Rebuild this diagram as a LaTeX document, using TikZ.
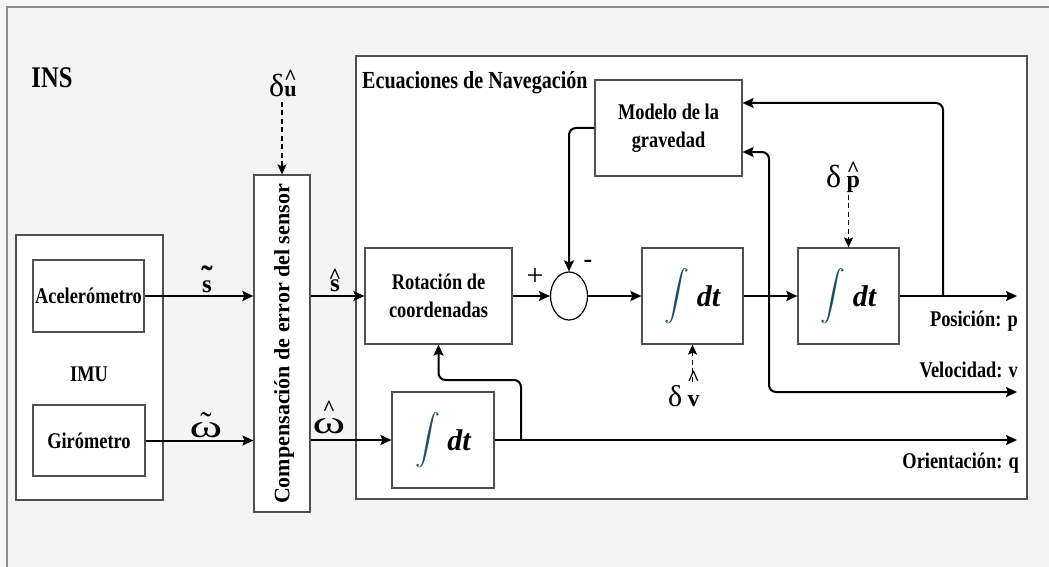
\documentclass[tikz,border=0pt]{standalone}
\usepackage{amsmath}
\usepackage{fontspec}
\setmainfont{Liberation Serif}
\newfontfamily\narrowrm{Liberation Serif}[FakeStretch=0.82]
\usetikzlibrary{arrows.meta}
\usetikzlibrary{shapes.geometric}
\definecolor{bgcol}{HTML}{F4F4F4}
\definecolor{edgecol}{HTML}{505050}
\definecolor{framecol}{HTML}{8A8A8A}
\definecolor{intcol}{HTML}{1D4F66}
\newcommand{\acc}[3]{\ooalign{\hfil#2\hfil\cr\hfil\raisebox{#3}{#1}\hfil\cr}}
\newcommand{\hatmk}{{\fontsize{22}{22}\selectfont\bfseries\textasciicircum}}
\newcommand{\tilmk}{{\fontsize{34}{34}\selectfont ˜}}
\newcommand{\omg}{\scalebox{1.55}[1]{ω}}
\newcommand{\intdt}{{\fontsize{35}{35}\selectfont\color{intcol}$\displaystyle\int$}\hspace{7pt}\raisebox{-4pt}{\fontsize{30}{30}\selectfont\bfseries\itshape dt}}
\newcommand{\blk}{\fontsize{22.4}{28}\selectfont\narrowrm\bfseries}

\begin{document}
\begin{tikzpicture}[x=1pt,y=-1pt,
    >={Stealth[length=11pt,width=10pt,inset=2pt]},
    box/.style={draw=edgecol,line width=1.2pt,fill=white,inner sep=0pt},
    txt/.style={font=\blk,align=center,inner sep=0pt},
    conn/.style={line width=2pt,->},
    dasharr/.style={line width=1.5pt,dash pattern=on 5pt off 3.5pt,
        -{Stealth[length=10pt,width=9pt,inset=2pt]}},
    acclbl/.style={anchor=base,inner sep=1pt}]
    \useasboundingbox (0,0) rectangle (1049,567);
    % background and frame
    \fill[bgcol] (0,0) rectangle (1049,567);
    \draw[framecol,line width=1.5pt] (7,567) -- (7,7) -- (1049,7);
    \node[txt,font=\fontsize{30}{30}\selectfont\narrowrm\bfseries] (ins) at (52,78) {INS};

    % IMU
    \node[box,minimum width=147,minimum height=265] (imu) at (89.5,367.5) {};
    \node[box,txt,minimum width=111,minimum height=72] (acel) at (88.5,296) {Acelerómetro};
    \node[txt] (imulbl) at (89,374) {IMU};
    \node[box,txt,minimum width=112,minimum height=71] (gyro) at (89,440.5) {Girómetro};

    % sensor error compensation
    \node[box,minimum width=56,minimum height=337] (comp) at (282,343.5) {};
    \node[rotate=90,font=\fontsize{22}{22}\selectfont\bfseries,inner sep=0pt] (complbl) at (284,344) {Compensación de error del sensor};
    \node[acclbl,font=\fontsize{32}{32}\selectfont] (du) at (283,97) {δ{\fontsize{22}{22}\selectfont\bfseries\acc{\hatmk}{u}{12pt}}};

    % navigation equations
    \node[box,minimum width=671,minimum height=443] (nav) at (691.5,277.5) {};
    \node[txt,anchor=west,font=\fontsize{24.5}{24.5}\selectfont\narrowrm\bfseries] (navlbl) at (362,83) {Ecuaciones de Navegación};
    \node[box,txt,minimum width=147,minimum height=96] (grav) at (668.5,128) {Modelo de la\\gravedad};
    \node[box,txt,minimum width=147,minimum height=96] (rot) at (438.5,296) {Rotación de\\coordenadas};
    \node[draw=black,line width=1.2pt,fill=white,ellipse,minimum width=37,minimum height=48,inner sep=0pt] (sum) at (569,296) {};
    \node[box,minimum width=101,minimum height=96] (intv) at (692.5,296) {\intdt};
    \node[box,minimum width=101,minimum height=96] (intp) at (848.5,296) {\intdt};
    \node[box,minimum width=102,minimum height=96] (intq) at (443,440) {\intdt};
    \node[font=\fontsize{30}{30}\selectfont] (plus) at (535,277) {+};
    \node[font=\fontsize{26}{26}\selectfont\bfseries] (minus) at (588,264) {-};
    \node[acclbl,font=\fontsize{32}{32}\selectfont] (dp) at (843,187) {δ\,{\fontsize{24}{24}\selectfont\bfseries\acc{\hatmk}{p}{11pt}}};
    \node[acclbl,font=\fontsize{30}{30}\selectfont] (dv) at (684,406) {δ\,{\fontsize{24}{24}\selectfont\bfseries\acc{\hatmk}{v}{21pt}}};

    % outputs
    \coordinate (pout) at (1017,296);
    \coordinate (vout) at (1017,392);
    \coordinate (qout) at (1017,440);
    \coordinate (ptap) at (943,296);
    \coordinate (qtap) at (521,440);
    \node[txt,anchor=east] (plbl) at (1018,321) {Posición: p};
    \node[txt,anchor=east] (vlbl) at (1018,370) {Velocidad: v};
    \node[txt,anchor=east] (qlbl) at (1019,463) {Orientación: q};

    % signal labels
    \node[acclbl,font=\fontsize{25}{25}\selectfont\bfseries] (stil) at (207,292) {\acc{\tilmk}{s}{3pt}};
    \node[acclbl,font=\fontsize{25}{25}\selectfont\bfseries] (shat) at (335,291) {\acc{\hatmk}{s}{8pt}};
    \node[acclbl,font=\fontsize{32}{32}\selectfont] (wtil) at (206,437) {\acc{\tilmk}{\omg}{2pt}};
    \node[acclbl,font=\fontsize{32}{32}\selectfont] (what) at (329,433) {\acc{\hatmk}{\omg}{18pt}};

    % connectors
    \draw[conn] (acel.east) -- (acel.east -| comp.west);
    \draw[conn] (gyro.east) -- (gyro.east -| comp.west);
    \draw[conn] (comp.east |- rot.west) -- (rot.west);
    \draw[conn] (comp.east |- intq.west) -- (intq.west);
    \draw[conn] (rot.east) -- (sum.west);
    \draw[conn] (sum.east) -- (intv.west);
    \draw[conn] (intv.east) -- (intp.west);
    \draw[conn] (intp.east) -- (pout);
    \draw[conn] (intq.east) -- (qout);
    \draw[conn,rounded corners=7pt] (grav.west) -- (sum.north |- grav.west) -- (sum.north);
    \draw[conn,rounded corners=7pt] (ptap) -- (943,103) -- (grav.east |- 0,103);
    \draw[line width=2pt,<->,rounded corners=7pt] (grav.east |- 0,152) -- (769,152) -- (769,392) -- (vout);
    \draw[conn,rounded corners=7pt] (qtap) -- (521,380) -- (rot.south |- 0,380) -- (rot.south);
    \draw[dasharr] ([yshift=-3pt]du.south -| comp.north) -- (comp.north);
    \draw[dasharr] ([yshift=-6pt]dp.south -| intp.north) -- (intp.north);
    \draw[dasharr] ([yshift=2pt]dv.north -| intv.south) -- (intv.south);
\end{tikzpicture}
\end{document}
